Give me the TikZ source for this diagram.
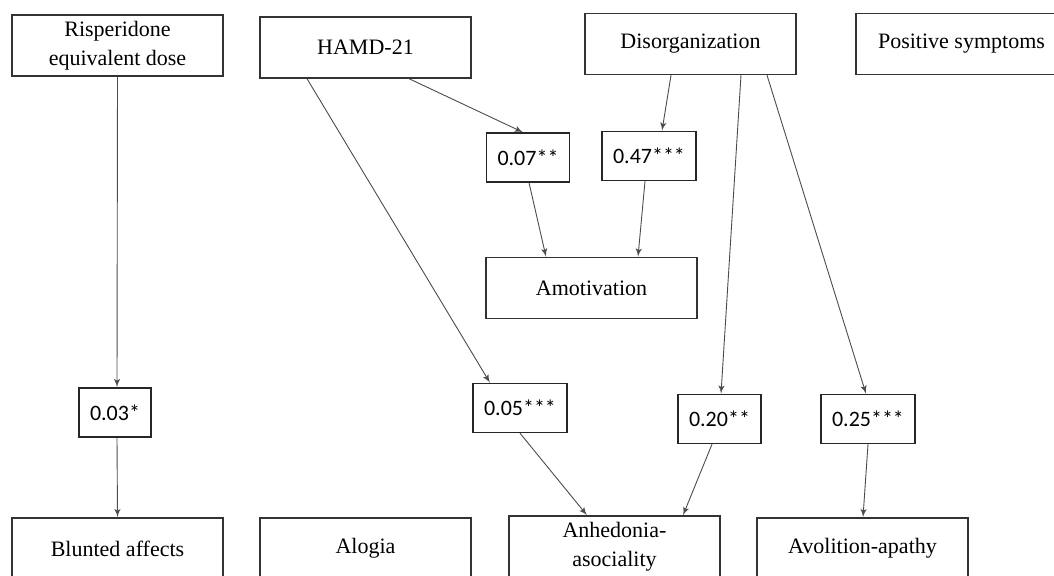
\documentclass[tikz,border=0pt]{standalone}
\usepackage{fontspec}
\setmainfont{Liberation Serif}
\newfontfamily\coeffont{Carlito}
\usetikzlibrary{arrows}

\begin{document}
\begin{tikzpicture}[x=0.5pt,y=-0.5pt,>=latex',
	var/.style={draw=black!80,line width=0.7pt,minimum width=105.5pt,minimum height=30.5pt,inner sep=0pt,align=center,font=\fontsize{11}{14.5}\selectfont},
	coef/.style={draw=black!85,line width=0.7pt,minimum height=24.5pt,inner xsep=5.5pt,inner ysep=0pt,font=\coeffont\fontsize{11}{13}\selectfont},
	link/.style={->,color=black!70,line width=0.45pt}]
	
	\useasboundingbox (0,0) rectangle (1054,576);
	
	%Variablen oben
	\node (risp) [var] at (117.5,45.5) {Risperidone\\equivalent dose};
	\node (hamd) [var] at (365.5,47.5) {HAMD-21};
	\node (disorg) [var] at (690.5,44) {Disorganization};
	\node (pos) [var] at (961.5,44) {Positive symptoms};
	
	%Koeffizienten
	\node (c07) [coef] at (528,157.5) {0.07**};
	\node (c47) [coef] at (649,156) {0.47***};
	\node (c03) [coef] at (115,412.5) {0.03*};
	\node (c05) [coef] at (520,408) {0.05***};
	\node (c20) [coef] at (719.5,419) {0.20**};
	\node (c25) [coef] at (868,419) {0.25***};
	
	%Variablen unten
	\node (amot) [var] at (591.5,288) {Amotivation};
	\node (blunt) [var] at (117.5,548.5) {Blunted affects};
	\node (alog) [var] at (365.5,548.5) {Alogia};
	\node (anhed) [var] at (614.5,546.5) {Anhedonia-\\asociality};
	\node (avol) [var] at (862.5,548.5) {Avolition-apathy};
	
	%Pfade
	\path[link]
	(risp.south) edge ([xshift=1pt]c03.north)
	([xshift=1pt]c03.south) edge (blunt.north)
	
	([xshift=-29.25pt]hamd.south) edge ([xshift=-15pt]c05.north)
	([xshift=21.75pt]hamd.south) edge ([xshift=-2.5pt]c07.north)
	
	([xshift=-9.75pt]disorg.south) edge ([xshift=6.5pt]c47.north)
	([xshift=25.25pt]disorg.south) edge ([xshift=0.75pt]c20.north)
	([xshift=38.25pt]disorg.south) edge ([xshift=-1pt]c25.north)
	
	([xshift=0.5pt]c07.south) edge ([xshift=-22.75pt]amot.north)
	([xshift=-2pt]c47.south) edge ([xshift=23.25pt]amot.north)
	
	(c05.south) edge ([xshift=-13.75pt]anhed.north)
	([xshift=-3.75pt]c20.south) edge ([xshift=34.25pt]anhed.north)
	(c25.south) edge ([xshift=0.25pt]avol.north);
	
\end{tikzpicture}
\end{document}
